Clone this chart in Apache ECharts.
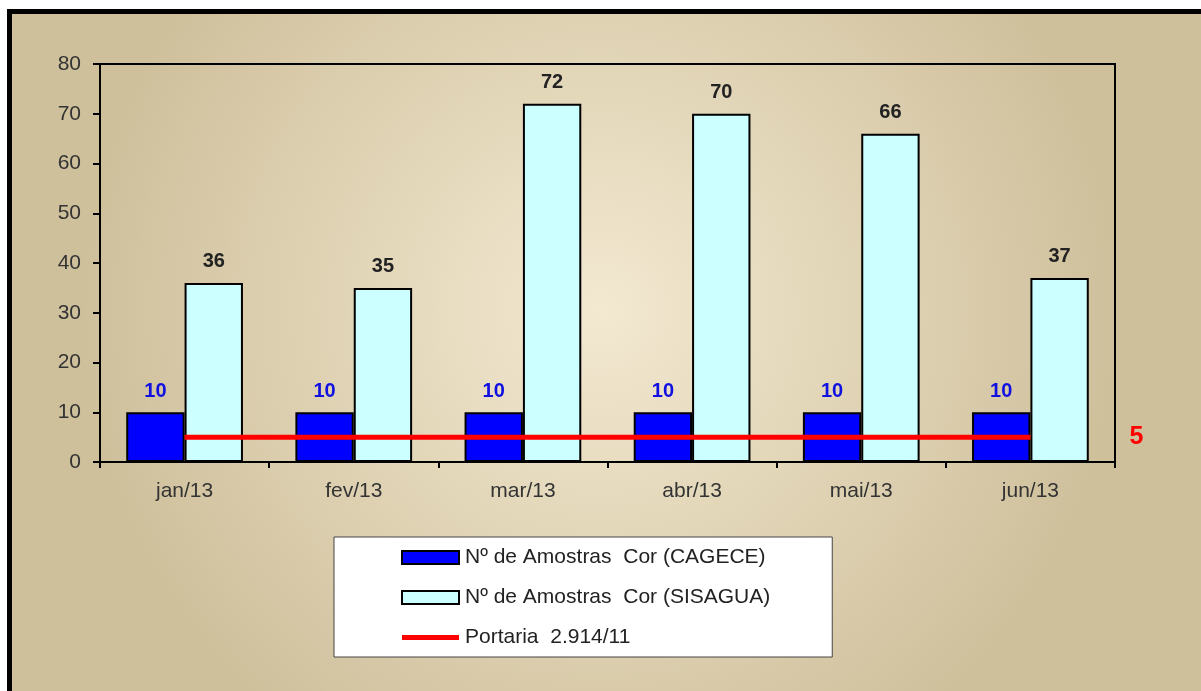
<!DOCTYPE html>
<html><head><meta charset="utf-8">
<script src="https://cdn.jsdelivr.net/npm/echarts@6/dist/echarts.min.js"></script>
<style>html,body{margin:0;padding:0;background:#fff}#c{width:1201px;height:691px}</style>
</head><body><div id="c"></div>
<script>
const categories = ['jan/13','fev/13','mar/13','abr/13','mai/13','jun/13'];
const cagece = [10,10,10,10,10,10];
const sisagua = [36,35,72,70,66,37];
const portaria = [5,5,5,5,5,5];
const seriesNames = ['Nº de Amostras  Cor (CAGECE)','Nº de Amostras  Cor (SISAGUA)','Portaria  2.914/11'];

const chart = echarts.init(document.getElementById('c'));
const F = 'Liberation Sans, Arial, sans-serif';
chart.setOption({
  backgroundColor: {type:'radial', x:0.5, y:0.45, r:0.75,
    colorStops:[{offset:0,color:'#f3e9d1'},{offset:1,color:'#cfc09c'}]},
  textStyle:{fontFamily:F},
  animation:false,
  graphic:[
    {type:'rect', shape:{x:0,y:0,width:1201,height:9}, style:{fill:'#fff'}, z:0},
    {type:'rect', shape:{x:0,y:0,width:7,height:691}, style:{fill:'#fff'}, z:0},
    {type:'rect', shape:{x:9.5,y:11.5,width:1210,height:700}, style:{fill:null,stroke:'#000',lineWidth:5}, z:1}
  ],
  grid:{left:100, top:64, right:86, bottom:229, show:true, borderColor:'#000', borderWidth:2, backgroundColor:'transparent'},
  legend:{
    orient:'vertical', left:334, top:537,
    padding:[10,62,9,67], itemGap:19, itemWidth:57, itemHeight:13,
    backgroundColor:'#fff', borderColor:'#444', borderWidth:1,
    textStyle:{fontFamily:F, fontSize:21, color:'#222', padding:[0,0,0,1]},
    data:[
      {name:seriesNames[0], icon:'rect'},
      {name:seriesNames[1], icon:'rect'},
      {name:seriesNames[2], icon:'path://M0,0 L0,0 M0,4 L57,4 L57,9 L0,9 Z M57,13 L57,13', itemStyle:{color:'#ff0000', borderWidth:0}}
    ]
  },
  xAxis:{type:'category', data:categories,
    axisLine:{lineStyle:{color:'#000',width:2}},
    axisTick:{show:true, length:6, lineStyle:{color:'#000',width:2}},
    axisLabel:{fontSize:21, color:'#333', margin:19, fontFamily:F}
  },
  yAxis:{type:'value', min:0, max:80, interval:10,
    axisLine:{show:true, lineStyle:{color:'#000',width:2}},
    axisTick:{show:true, length:7, lineStyle:{color:'#000',width:2}},
    splitLine:{show:false},
    axisLabel:{fontSize:21, color:'#333', margin:19, fontFamily:F}
  },
  series:[
    {name:seriesNames[0], type:'bar', data:cagece, barWidth:'34.5%', barGap:'0%',
     itemStyle:{color:'#0000ff', borderColor:'#000', borderWidth:2},
     label:{show:true, position:'top', distance:11, color:'#1010e0', fontWeight:'bold', fontSize:20, fontFamily:F}},
    {name:seriesNames[1], type:'bar', data:sisagua, barWidth:'34.5%', barGap:'0%',
     itemStyle:{color:'#ccffff', borderColor:'#000', borderWidth:2},
     label:{show:true, position:'top', distance:11, color:'#222', fontWeight:'bold', fontSize:20, fontFamily:F}},
    {name:seriesNames[2], type:'line', data:portaria, symbol:'none', z:5,
     lineStyle:{color:'#ff0000', width:5}, itemStyle:{color:'#ff0000'},
     endLabel:{show:true, formatter:p=>p.value, offset:[91,0], color:'#ff0000', fontWeight:'bold', fontSize:25, fontFamily:F}}
  ]
});
</script></body></html>
